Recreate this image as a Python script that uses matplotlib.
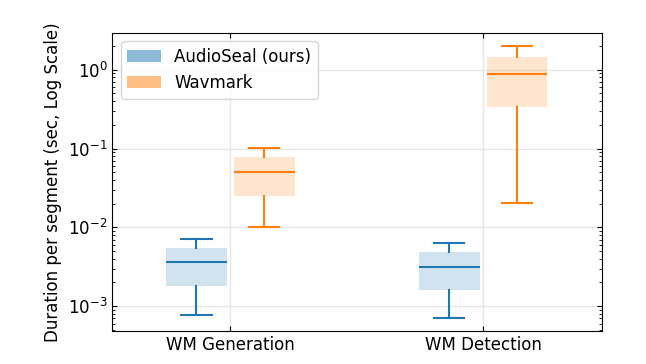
import matplotlib
matplotlib.use("Agg")
import matplotlib.pyplot as plt
from matplotlib.patches import Patch

categories = ["WM Generation", "WM Detection"]
series = ["AudioSeal (ours)", "Wavmark"]
colors = ["#1f77b4", "#ff7f0e"]

# whislo, q1, median, q3, whishi per category
audioseal_stats = [
    [0.00078, 0.00182, 0.0036, 0.00542, 0.0071],
    [0.00071, 0.00159, 0.00317, 0.00482, 0.0063],
]
wavmark_stats = [
    [0.0101, 0.0248, 0.051, 0.0785, 0.103],
    [0.0202, 0.336, 0.89, 1.45, 1.98],
]

plt.rcParams['font.size'] = 12
fig, ax = plt.subplots(figsize=(6.46, 3.64), dpi=100)
fig.subplots_adjust(left=0.174, right=0.932, top=0.91, bottom=0.09)

offset = 0.134
width = 0.24
for si, (stats, col) in enumerate(zip([audioseal_stats, wavmark_stats], colors)):
    bstats = []
    for s in stats:
        bstats.append(dict(whislo=s[0], q1=s[1], med=s[2], q3=s[3], whishi=s[4], fliers=[]))
    pos = [i + (offset if si else -offset) for i in range(len(categories))]
    ax.bxp(bstats, positions=pos, widths=width, patch_artist=True, showfliers=False,
           capwidths=width * 0.5,
           boxprops=dict(facecolor=col, alpha=0.2, edgecolor='none'),
           medianprops=dict(color=col, linewidth=1.5),
           whiskerprops=dict(color=col, linewidth=1.5),
           capprops=dict(color=col, linewidth=1.5),
           manage_ticks=False)

ax.set_yscale('log')
ax.set_ylim(4.8e-4, 2.95)
ax.set_xlim(-0.466, 1.47)
ax.set_xticks(range(len(categories)))
ax.set_xticklabels(categories)
ax.set_ylabel("Duration per segment (sec, Log Scale)")
ax.tick_params(which='both', direction='in', top=True, right=True)
ax.grid(True, color='#e6e6e6', linewidth=1)
ax.set_axisbelow(True)

handles = [Patch(facecolor=c, alpha=0.5, label=l) for c, l in zip(colors, series)]
ax.legend(handles=handles, loc='upper left', fontsize=12)

fig.savefig("out.png", dpi=100)
